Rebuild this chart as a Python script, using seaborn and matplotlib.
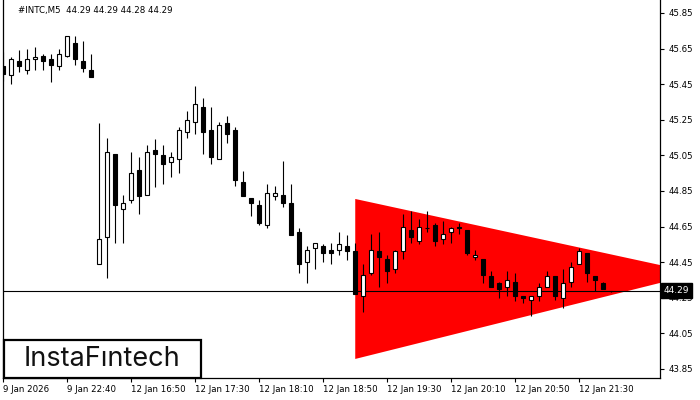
import matplotlib
matplotlib.use("Agg")
import matplotlib.pyplot as plt
from matplotlib.patches import Rectangle
import seaborn as sns
import numpy as np

symbol = "#INTC,M5"
last_quote = ["44.29", "44.29", "44.28", "44.29"]

# M5 candles, 9 Jan 22:00 ... 12 Jan 21:50
opens = [45.55, 45.50, 45.58, 45.53, 45.59, 45.61, 45.59, 45.55, 45.61, 45.68,
         45.58, 45.53, 44.44, 44.59, 45.06, 44.75, 44.80, 44.97, 44.83, 45.08,
         45.05, 45.01, 45.03, 45.18, 45.24, 45.32, 45.19, 45.03, 45.23, 45.19,
         44.90, 44.81, 44.77, 44.66, 44.82, 44.83, 44.78, 44.62, 44.45, 44.53,
         44.54, 44.52, 44.52, 44.54, 44.51, 44.26, 44.39, 44.51, 44.47, 44.41,
         44.51, 44.63, 44.57, 44.64, 44.66, 44.58, 44.62, 44.65, 44.63, 44.48,
         44.47, 44.37, 44.33, 44.31, 44.34, 44.26, 44.24, 44.26, 44.31, 44.37,
         44.25, 44.34, 44.44, 44.50, 44.37, 44.33, 44.29]
highs = [45.63, 45.60, 45.64, 45.65, 45.66, 45.62, 45.62, 45.65, 45.72, 45.72,
         45.69, 45.62, 45.23, 45.15, 45.06, 44.83, 45.07, 45.04, 45.11, 45.14,
         45.11, 45.07, 45.21, 45.30, 45.44, 45.37, 45.32, 45.24, 45.27, 45.21,
         44.96, 44.81, 44.80, 44.89, 44.88, 45.02, 44.89, 44.64, 44.54, 44.56,
         44.55, 44.56, 44.62, 44.60, 44.56, 44.44, 44.61, 44.62, 44.49, 44.52,
         44.72, 44.74, 44.69, 44.74, 44.67, 44.68, 44.65, 44.67, 44.63, 44.52,
         44.47, 44.40, 44.34, 44.40, 44.39, 44.26, 44.26, 44.33, 44.40, 44.37,
         44.41, 44.45, 44.53, 44.50, 44.37, 44.34, 44.29]
lows = [45.47, 45.45, 45.52, 45.51, 45.53, 45.53, 45.46, 45.53, 45.60, 45.56,
        45.52, 45.49, 44.44, 44.36, 44.56, 44.56, 44.78, 44.72, 44.83, 44.87,
        44.89, 44.93, 44.95, 45.15, 45.17, 45.06, 45.00, 45.03, 45.12, 44.88,
        44.82, 44.71, 44.66, 44.64, 44.80, 44.76, 44.60, 44.39, 44.33, 44.41,
        44.45, 44.44, 44.49, 44.46, 44.27, 44.17, 44.38, 44.31, 44.33, 44.39,
        44.47, 44.56, 44.55, 44.62, 44.54, 44.55, 44.56, 44.61, 44.49, 44.46,
        44.33, 44.31, 44.25, 44.26, 44.23, 44.22, 44.15, 44.23, 44.31, 44.24,
        44.19, 44.31, 44.44, 44.34, 44.29, 44.30, 44.28]
closes = [45.51, 45.59, 45.55, 45.59, 45.60, 45.58, 45.56, 45.62, 45.72, 45.59,
          45.54, 45.49, 44.58, 45.07, 44.77, 44.78, 44.95, 44.82, 45.07, 45.06,
          45.00, 45.04, 45.19, 45.25, 45.34, 45.18, 45.04, 45.22, 45.17, 44.91,
          44.82, 44.78, 44.67, 44.84, 44.84, 44.78, 44.60, 44.44, 44.52, 44.56,
          44.50, 44.50, 44.55, 44.51, 44.27, 44.38, 44.52, 44.48, 44.40, 44.51,
          44.65, 44.59, 44.65, 44.64, 44.57, 44.61, 44.64, 44.64, 44.50, 44.49,
          44.38, 44.31, 44.30, 44.35, 44.26, 44.25, 44.26, 44.31, 44.37, 44.26,
          44.33, 44.42, 44.51, 44.39, 44.35, 44.30, 44.29]

time_tick_bars = [0, 8, 16, 24, 32, 40, 48, 56, 64, 72]
time_tick_labels = ["9 Jan 2026", "9 Jan 22:40", "12 Jan 16:50", "12 Jan 17:30",
                    "12 Jan 18:10", "12 Jan 18:50", "12 Jan 19:30", "12 Jan 20:10",
                    "12 Jan 20:50", "12 Jan 21:30"]
price_ticks = [43.85, 44.05, 44.25, 44.45, 44.65, 44.85, 45.05, 45.25, 45.45, 45.65, 45.85]
current_price = 44.29

# symmetrical triangle pattern (bar index, price)
triangle_bars = [44, 44, 86.9]
triangle_prices = [44.805, 43.906, 44.387]

sns.set_theme(style="ticks")
plt.rcParams['font.family'] = ['DejaVu Sans']

fig = plt.figure(figsize=(7, 4), dpi=100)
fig.patch.set_facecolor("white")
ax = fig.add_axes([2.5 / 700, 22 / 400, 657.5 / 700, 378 / 400])
ax.set_facecolor("white")

o = np.array(opens)
c = np.array(closes)
idx = np.arange(len(o))
up = c >= o

ax.fill(triangle_bars, triangle_prices, color="#ff0000", lw=0, zorder=1)
ax.axhline(current_price, color="black", lw=0.8, zorder=2)
ax.vlines(idx, lows, highs, color="black", lw=0.8, zorder=3)
ax.bar(idx, np.abs(c - o), bottom=np.minimum(o, c), width=0.55,
       color=np.where(up, "white", "black"), edgecolor="black", linewidth=0.8, zorder=4)

ax.set_xlim(-0.1, 82.1)
ax.set_ylim(43.799, 45.923)

ax.yaxis.tick_right()
ax.set_yticks(price_ticks)
ax.set_yticklabels([f"{p:.2f}" for p in price_ticks])
ax.set_xticks(time_tick_bars)
ax.set_xticklabels(time_tick_labels, ha="left")
ax.tick_params(axis="both", direction="out", length=3, width=0.8, labelsize=6.2,
               colors="black", pad=2)
ax.tick_params(axis="y", pad=3)

for side in ["left", "right", "bottom"]:
    ax.spines[side].set_color("black")
    ax.spines[side].set_linewidth(0.9)
ax.spines["top"].set_visible(False)

ax.text(1.006, current_price, "44.29", transform=ax.get_yaxis_transform(),
        ha="left", va="center", color="white", fontsize=6.5, clip_on=False,
        bbox=dict(boxstyle="square,pad=0.3", fc="black", ec="black"), zorder=6)

fig.text(18 / 700, 1 - 11 / 400, symbol + "  " + " ".join(last_quote),
         fontsize=6.2, va="center", ha="left", color="black")

fig.patches.append(Rectangle((3.5 / 700, 22 / 400), 197 / 700, 38 / 400,
                             transform=fig.transFigure, fill=True, fc="white",
                             ec="black", lw=1.6, zorder=10))
fig.text(102 / 700, 1 - 359 / 400, "InstaF\u0131ntech", fontsize=19.5,
         family=["Inter", "DejaVu Sans"], ha="center", va="center",
         color="#111111", zorder=11)

fig.savefig("out.png", dpi=100)
